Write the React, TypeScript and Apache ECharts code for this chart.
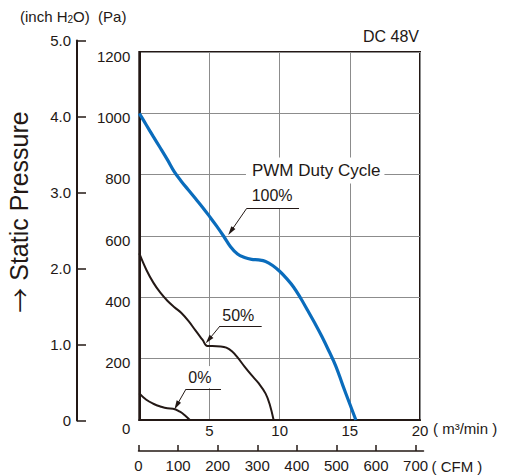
import React, { useEffect, useRef } from 'react';
import * as echarts from 'echarts';

// ---- data (airflow m³/min, static pressure Pa) ----
const duty100: [number, number][] = [
  [0, 1000], [0.5, 962], [1, 924], [1.5, 887], [2, 849], [2.5, 809], [3, 778], [3.5, 750],
  [4, 722], [4.5, 694], [5, 664], [5.5, 633], [6, 600], [6.5, 565], [7, 541], [7.5, 530],
  [8, 524], [8.5, 522], [9, 517], [9.5, 504], [10, 485], [10.5, 461], [11, 433], [11.5, 397],
  [12, 357], [12.5, 316], [13, 273], [13.5, 226], [14, 176], [14.5, 113], [15, 52], [15.43, 0],
];
const duty50: [number, number][] = [
  [0, 543], [0.5, 490], [1, 448], [1.5, 415], [2, 389], [2.5, 368], [3, 349], [3.5, 323],
  [4, 292], [4.5, 262], [4.85, 241], [5.2, 241], [5.8, 240], [6.2, 236], [6.6, 224], [7, 204],
  [7.5, 174], [8, 146], [8.5, 120], [9, 86], [9.3, 50], [9.57, 0],
];
const duty0: [number, number][] = [
  [0, 87], [0.5, 66], [1, 53], [1.5, 44], [2, 38], [2.4, 37], [2.9, 27], [3.3, 13], [3.6, 0],
];

const paTicks = [0, 200, 400, 600, 800, 1000, 1200];
const inchTicks = [0, 1, 2, 3, 4, 5];
const flowTicks = [0, 5, 10, 15, 20];
const cfmTicks = [0, 100, 200, 300, 400, 500, 600, 700];

// annotation anchors in data coordinates (m³/min, Pa)
const label100 = { title: [7.6, 813.6], pct: [7.72, 732], underline: [[7.65, 690], [11.38, 690]], tip: [6.52, 615] };
const label50 = { pct: [5.91, 341], underline: [[5.75, 306.5], [8.72, 306.5]], tip: [4.94, 261.5] };
const label0 = { pct: [3.21, 140], underline: [[3.33, 101], [5.82, 101]], tip: [2.66, 47.3] };

const FONT = '"Liberation Sans", "Noto Sans CJK JP", Arial, sans-serif';
const CJK = '"Noto Sans CJK JP", "Liberation Sans", sans-serif';
const INK = '#231815';
const BLUE = '#0a6cbc';
const GRID = '#8c8c8c';

function annot(a: any) {
  const lines: any[] = [
    [{ coord: a.underline[0], symbol: 'none' }, { coord: a.underline[1], symbol: 'none' }],
    [{ coord: a.underline[0], symbol: 'none' }, { coord: a.tip, symbol: 'triangle', symbolSize: [5, 9] }],
  ];
  return {
    silent: true,
    animation: false,
    symbol: ['none', 'none'],
    label: { show: false },
    lineStyle: { color: INK, width: 1, type: 'solid' },
    emphasis: { disabled: true },
    data: lines,
  };
}

function textMark(items: any[]) {
  return {
    silent: true,
    animation: false,
    symbol: 'rect',
    symbolSize: 0,
    itemStyle: { color: 'transparent' },
    label: {
      show: true,
      position: 'right',
      distance: 0,
      formatter: (p: any) => p.name,
      fontFamily: FONT,
      fontSize: 16,
      color: INK,
    },
    data: items,
  };
}

export default function App() {
  const ref = useRef<HTMLDivElement>(null);
  useEffect(() => {
    const chart = echarts.init(ref.current!, null, { renderer: 'svg' });
    const option: any = {
      animation: false,
      backgroundColor: '#ffffff',
      textStyle: { fontFamily: FONT, color: INK },
      title: {
        text: 'DC 48V',
        right: 88,
        top: 28,
        padding: 0,
        textStyle: { fontSize: 16, fontWeight: 'normal', color: INK, fontFamily: FONT },
      },
      graphic: [
        {
          type: 'text',
          left: 20,
          top: 9,
          style: {
            text: '{a|(inch H}{s|2}{a|O)  (Pa)}',
            rich: {
              a: { fontSize: 15, fontFamily: FONT, fill: INK },
              s: { fontSize: 10, fontFamily: FONT, fill: INK, verticalAlign: 'bottom', padding: [6, 0, 0, 0] },
            },
            fill: INK,
          },
        },
        {
          type: 'text',
          x: 18.5,
          y: 212,
          rotation: Math.PI / 2,
          style: {
            text: '{r|→}{t| Static Pressure}',
            align: 'center',
            verticalAlign: 'middle',
            rich: {
              r: { fontSize: 25, fontFamily: CJK, fill: INK },
              t: { fontSize: 25, fontFamily: FONT, fill: INK },
            },
            fill: INK,
          },
        },
      ],
      grid: [
        { left: 139.3, top: 52, width: 280.7, height: 368, show: true, borderColor: INK, borderWidth: 2, backgroundColor: 'transparent', containLabel: false, outerBoundsMode: 'none' },
        { left: 77, top: 40.5, width: 10, height: 380, containLabel: false, outerBoundsMode: 'none' },
        { left: 138.5, top: 430, width: 285, height: 21, containLabel: false, outerBoundsMode: 'none' },
      ],
      xAxis: [
        {
          gridIndex: 0,
          type: 'value',
          min: flowTicks[0],
          max: flowTicks[flowTicks.length - 1],
          interval: 5,
          axisLine: { show: true, lineStyle: { color: INK, width: 2 } },
          axisTick: { show: false },
          splitLine: { show: true, lineStyle: { color: GRID, width: 1 } },
          axisLabel: {
            margin: 3,
            fontSize: 15,
            color: INK,
            fontFamily: FONT,
            formatter: (v: number) => (v === 0 ? '' : String(v)),
          },
          name: '( m³/min )',
          nameLocation: 'end',
          nameGap: 13,
          nameMoveOverlap: false,
          nameTextStyle: { fontSize: 15, color: INK, fontFamily: FONT, align: 'left', verticalAlign: 'top', padding: [1, 0, 0, 0] },
        },
        { gridIndex: 1, type: 'value', show: false, min: 0, max: 1 },
        {
          gridIndex: 2,
          type: 'value',
          position: 'bottom',
          min: 0,
          max: 720,
          axisLine: { show: true, lineStyle: { color: INK, width: 1.5 } },
          axisTick: { show: true, inside: true, length: 6, lineStyle: { color: INK, width: 1.5 }, customValues: cfmTicks },
          axisLabel: { margin: 7, fontSize: 15, color: INK, fontFamily: FONT, customValues: cfmTicks },
          splitLine: { show: false },
          name: '( CFM )',
          nameLocation: 'end',
          nameGap: 8,
          nameMoveOverlap: false,
          nameTextStyle: { fontSize: 15, color: INK, fontFamily: FONT, align: 'left', verticalAlign: 'top', padding: [8, 0, 0, 0] },
        },
      ],
      yAxis: [
        {
          gridIndex: 0,
          type: 'value',
          min: paTicks[0],
          max: paTicks[paTicks.length - 1],
          interval: 200,
          axisLine: { show: true, lineStyle: { color: INK, width: 2 } },
          axisTick: { show: false },
          splitLine: { show: true, lineStyle: { color: GRID, width: 1 } },
          axisLabel: {
            margin: 9,
            fontSize: 15,
            color: INK,
            fontFamily: FONT,
            formatter: (v: number) => (v === 0 ? '{z|0}' : '{n|' + v + '}'),
            rich: {
              z: { fontSize: 15, fontFamily: FONT, color: INK, padding: [16, 0, 0, 0] },
              n: { fontSize: 15, fontFamily: FONT, color: INK, padding: [8, 0, 0, 0] },
            },
          },
        },
        {
          gridIndex: 1,
          type: 'value',
          position: 'left',
          min: inchTicks[0],
          max: inchTicks[inchTicks.length - 1],
          interval: 1,
          axisLine: { show: true, lineStyle: { color: INK, width: 2 } },
          axisTick: { show: true, inside: true, length: 9, lineStyle: { color: INK, width: 1.5 } },
          splitLine: { show: false },
          axisLabel: {
            margin: 6,
            fontSize: 15,
            color: INK,
            fontFamily: FONT,
            formatter: (v: number) => (v === 0 ? '0' : v.toFixed(1)),
          },
        },
        { gridIndex: 2, type: 'value', show: false, min: 0, max: 1 },
      ],
      series: [
        {
          name: '100%',
          type: 'line',
          xAxisIndex: 0,
          yAxisIndex: 0,
          data: duty100,
          smooth: 0.4,
          showSymbol: false,
          lineStyle: { color: BLUE, width: 3.2 },
          itemStyle: { color: BLUE },
          markLine: annot(label100),
          markPoint: textMark([
            {
              name: 'PWM Duty Cycle',
              coord: label100.title,
              label: { backgroundColor: '#ffffff', padding: [9, 4, 0, 6], fontSize: 17 },
            },
            {
              name: '100%',
              coord: label100.pct,
              label: { backgroundColor: '#ffffff', padding: [5, 4, 4, 4] },
            },
          ]),
          z: 3,
        },
        {
          name: '50%',
          type: 'line',
          xAxisIndex: 0,
          yAxisIndex: 0,
          data: duty50,
          smooth: 0.4,
          showSymbol: false,
          lineStyle: { color: INK, width: 2 },
          itemStyle: { color: INK },
          markLine: annot(label50),
          markPoint: textMark([{ name: '50%', coord: label50.pct, label: { padding: [0, 0, 0, 0] } }]),
          z: 2,
        },
        {
          name: '0%',
          type: 'line',
          xAxisIndex: 0,
          yAxisIndex: 0,
          data: duty0,
          smooth: 0.4,
          showSymbol: false,
          lineStyle: { color: INK, width: 2 },
          itemStyle: { color: INK },
          markLine: annot(label0),
          markPoint: textMark([
            { name: '0%', coord: label0.pct, label: { backgroundColor: '#ffffff', padding: [6, 4, 0, 4] } },
          ]),
          z: 2,
        },
      ],
    };
    chart.setOption(option);
    return () => chart.dispose();
  }, []);
  return <div ref={ref} style={{ position: 'absolute', left: 0, top: 0, width: 507, height: 476 }} />;
}
